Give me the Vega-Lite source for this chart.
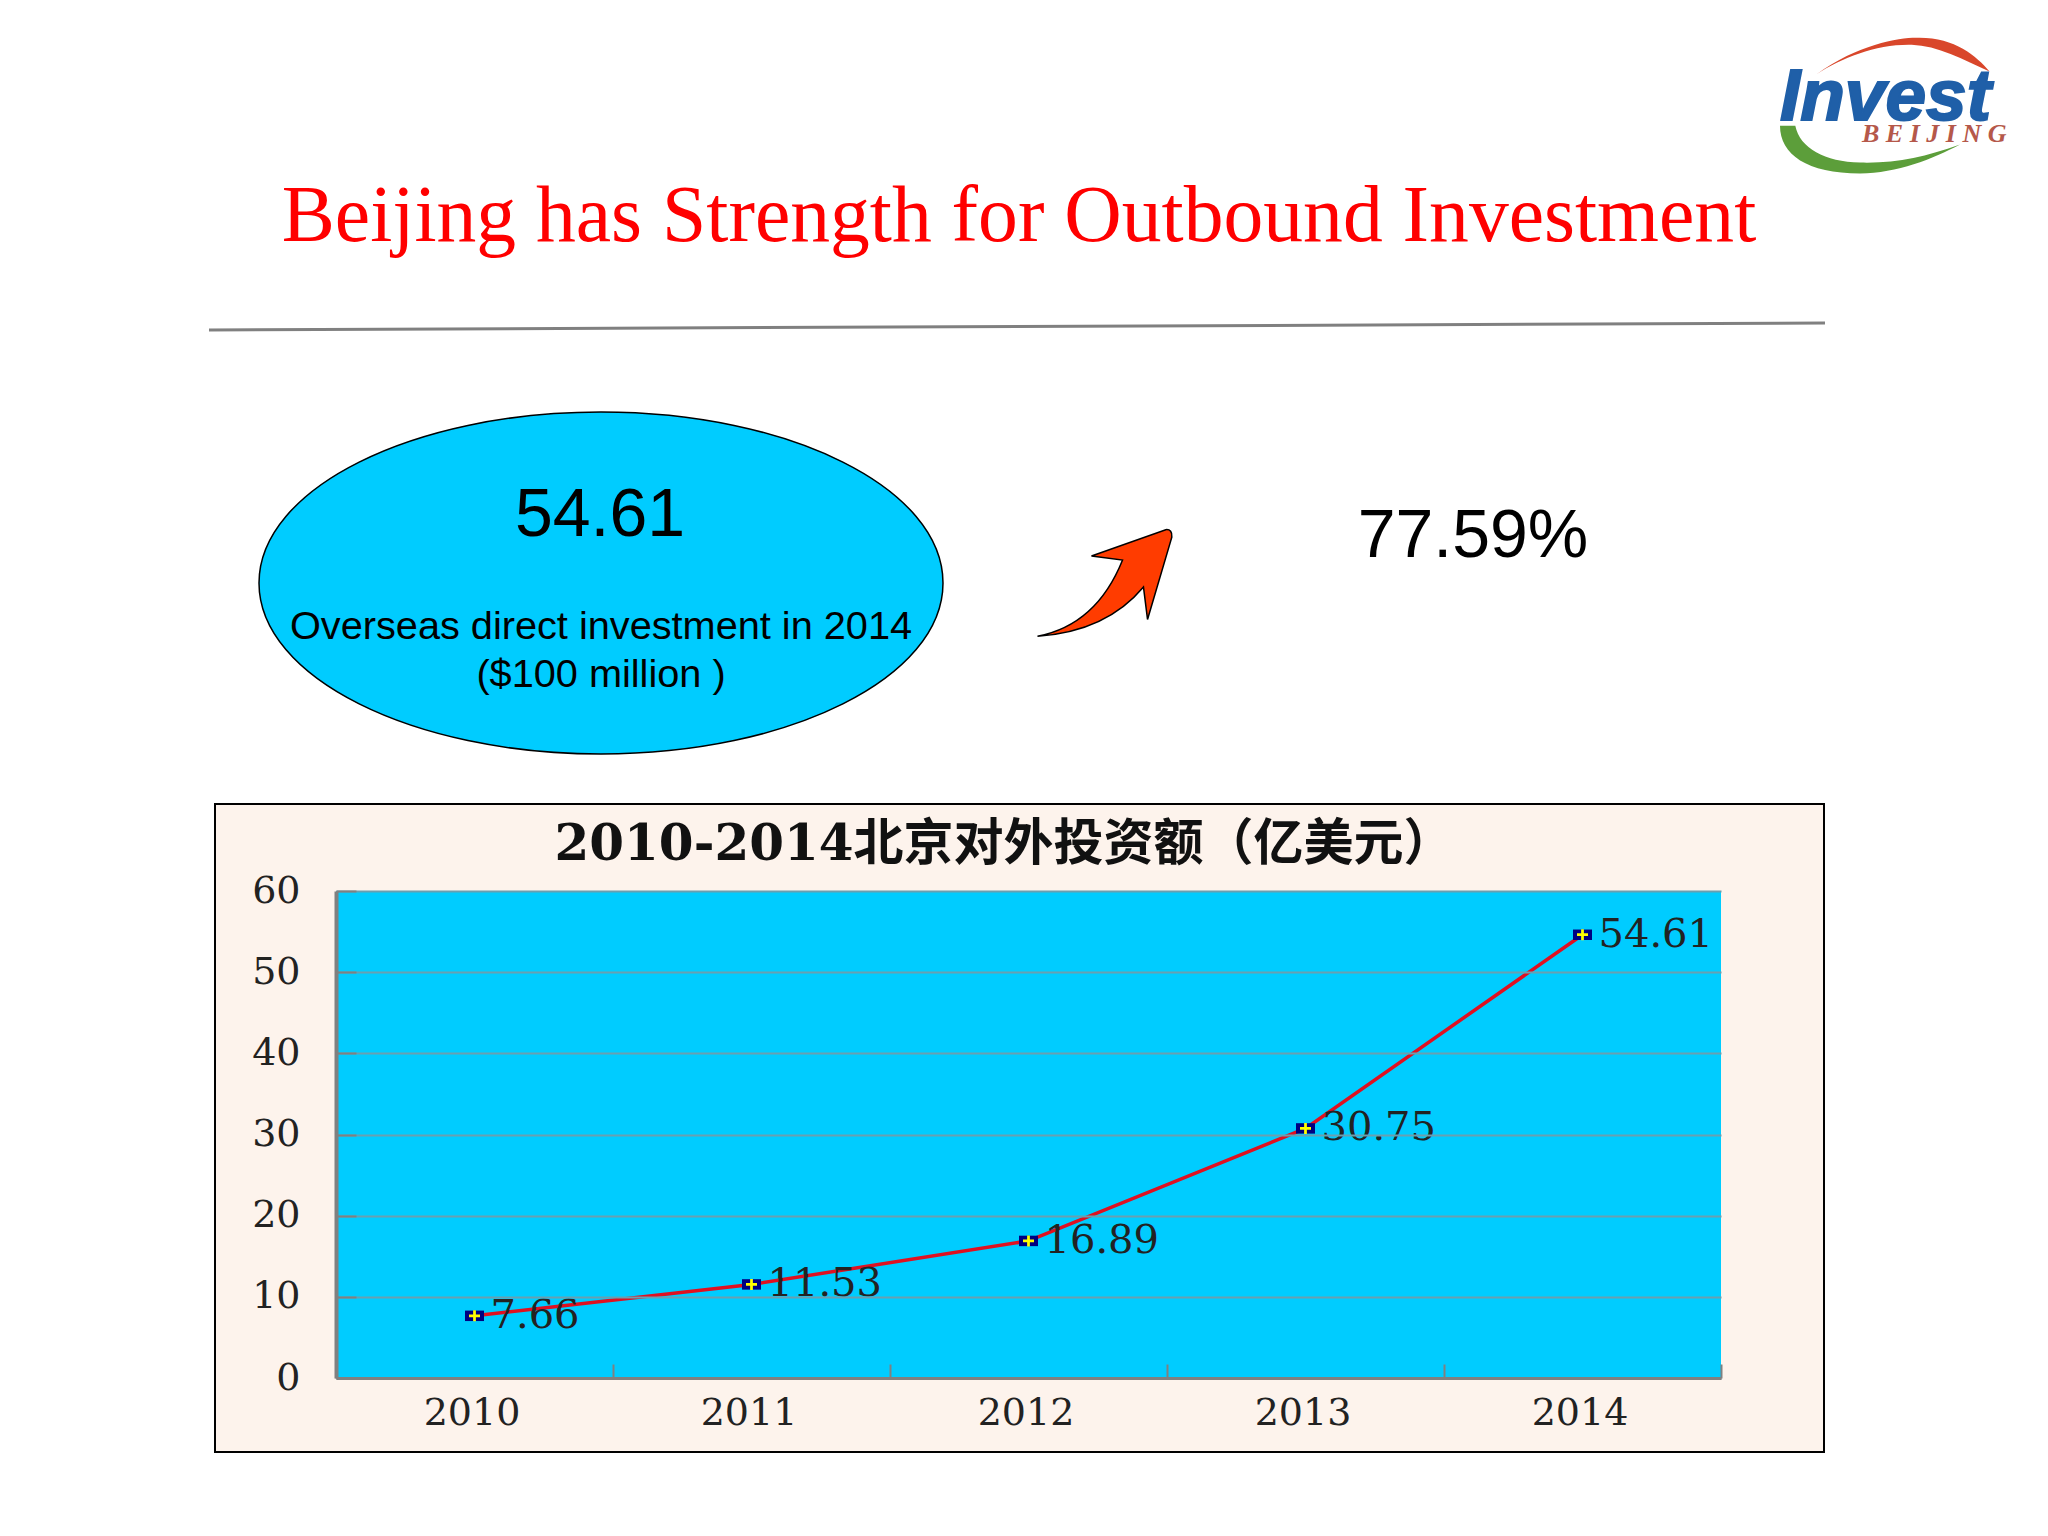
{
  "$schema": "https://vega.github.io/schema/vega-lite/v6.json",
  "width": 2048,
  "height": 1536,
  "padding": 0,
  "autosize": {"type": "none"},
  "background": "#ffffff",
  "config": {"view": {"stroke": null}},
  "data": {"values": [
    {"year": "2010", "amount": 7.66},
    {"year": "2011", "amount": 11.53},
    {"year": "2012", "amount": 16.89},
    {"year": "2013", "amount": 30.75},
    {"year": "2014", "amount": 54.61}
  ]},
  "resolve": {
    "scale": {"x": "independent", "y": "independent"},
    "axis": {"x": "independent", "y": "independent"}
  },
  "layer": [
    {
      "data": {"values": [{"kind": "slide"}]},
      "transform": [{"filter": "datum.kind == 'slide'"}],
      "layer": [
        {
          "mark": {"type": "rect", "fill": "#fdf3ec", "stroke": "#000000", "strokeWidth": 2},
          "encoding": {
            "x": {"datum": 215, "type": "quantitative", "scale": {"domain": [0, 2048], "range": [0, 2048]}, "axis": null},
            "x2": {"datum": 1824},
            "y": {"datum": 804, "type": "quantitative", "scale": {"domain": [0, 1536], "range": [0, 1536]}, "axis": null},
            "y2": {"datum": 1452}
          }
        },
        {
          "mark": {"type": "rect", "fill": "#00ccff"},
          "encoding": {
            "x": {"datum": 336, "type": "quantitative", "scale": {"domain": [0, 2048], "range": [0, 2048]}, "axis": null},
            "x2": {"datum": 1721},
            "y": {"datum": 891, "type": "quantitative", "scale": {"domain": [0, 1536], "range": [0, 1536]}, "axis": null},
            "y2": {"datum": 1378}
          }
        },
        {
          "mark": {"type": "rule", "stroke": "#808080", "strokeWidth": 3},
          "encoding": {
            "x": {"datum": 209, "type": "quantitative", "scale": {"domain": [0, 2048], "range": [0, 2048]}, "axis": null},
            "x2": {"datum": 1825},
            "y": {"datum": 330, "type": "quantitative", "scale": {"domain": [0, 1536], "range": [0, 1536]}, "axis": null},
            "y2": {"datum": 323}
          }
        },
        {
          "mark": {"type": "text", "text": "Beijing has Strength for Outbound Investment", "font": "Liberation Serif", "fontSize": 79.6, "fill": "#ff0000", "align": "center", "baseline": "middle"},
          "encoding": {
            "x": {"datum": 1019, "type": "quantitative", "scale": {"domain": [0, 2048], "range": [0, 2048]}, "axis": null},
            "y": {"datum": 217, "type": "quantitative", "scale": {"domain": [0, 1536], "range": [0, 1536]}, "axis": null}
          }
        },
        {
          "mark": {"type": "point", "shape": "M-1,0A1,0.5,0,1,1,1,0A1,0.5,0,1,1,-1,0Z", "size": 467856, "fill": "#00ccff", "filled": true, "opacity": 1, "stroke": "#000000", "strokeWidth": 1.5},
          "encoding": {
            "x": {"datum": 601, "type": "quantitative", "scale": {"domain": [0, 2048], "range": [0, 2048]}, "axis": null},
            "y": {"datum": 583, "type": "quantitative", "scale": {"domain": [0, 1536], "range": [0, 1536]}, "axis": null}
          }
        },
        {
          "mark": {"type": "text", "text": "54.61", "font": "Liberation Sans", "fontSize": 68, "fill": "#000000", "align": "center", "baseline": "middle"},
          "encoding": {
            "x": {"datum": 600, "type": "quantitative", "scale": {"domain": [0, 2048], "range": [0, 2048]}, "axis": null},
            "y": {"datum": 516, "type": "quantitative", "scale": {"domain": [0, 1536], "range": [0, 1536]}, "axis": null}
          }
        },
        {
          "mark": {"type": "text", "text": "Overseas direct investment in 2014", "font": "Liberation Sans", "fontSize": 39.7, "fill": "#000000", "align": "center", "baseline": "middle"},
          "encoding": {
            "x": {"datum": 601, "type": "quantitative", "scale": {"domain": [0, 2048], "range": [0, 2048]}, "axis": null},
            "y": {"datum": 627, "type": "quantitative", "scale": {"domain": [0, 1536], "range": [0, 1536]}, "axis": null}
          }
        },
        {
          "mark": {"type": "text", "text": "($100 million )", "font": "Liberation Sans", "fontSize": 39.7, "fill": "#000000", "align": "center", "baseline": "middle"},
          "encoding": {
            "x": {"datum": 601, "type": "quantitative", "scale": {"domain": [0, 2048], "range": [0, 2048]}, "axis": null},
            "y": {"datum": 675, "type": "quantitative", "scale": {"domain": [0, 1536], "range": [0, 1536]}, "axis": null}
          }
        },
        {
          "mark": {"type": "point", "shape": "M-1,.79Q-.125,.62,.26,-.34L-.2,-.40L.9,-.79Q1,-.8,.99,-.68L.63,.54L.57,.06Q.02,.72,-1,.79Z", "size": 18225, "fill": "#ff3c00", "filled": true, "opacity": 1, "stroke": "#000000", "strokeWidth": 1.5},
          "encoding": {
            "x": {"datum": 1105, "type": "quantitative", "scale": {"domain": [0, 2048], "range": [0, 2048]}, "axis": null},
            "y": {"datum": 583, "type": "quantitative", "scale": {"domain": [0, 1536], "range": [0, 1536]}, "axis": null}
          }
        },
        {
          "mark": {"type": "text", "text": "77.59%", "font": "Liberation Sans", "fontSize": 68, "fill": "#000000", "align": "center", "baseline": "middle"},
          "encoding": {
            "x": {"datum": 1473, "type": "quantitative", "scale": {"domain": [0, 2048], "range": [0, 2048]}, "axis": null},
            "y": {"datum": 537, "type": "quantitative", "scale": {"domain": [0, 1536], "range": [0, 1536]}, "axis": null}
          }
        },
        {
          "mark": {"type": "text", "text": "2010-2014北京对外投资额（亿美元）", "font": "DejaVu Serif, Noto Sans CJK SC", "fontWeight": "bold", "fontSize": 50, "fill": "#111111", "align": "center", "baseline": "middle"},
          "encoding": {
            "x": {"datum": 1004, "type": "quantitative", "scale": {"domain": [0, 2048], "range": [0, 2048]}, "axis": null},
            "y": {"datum": 845, "type": "quantitative", "scale": {"domain": [0, 1536], "range": [0, 1536]}, "axis": null}
          }
        },
        {
          "mark": {"type": "point", "shape": "M-1,.21C-.5,-.15,0,-.22,.19,-.21C.6,-.21,.85,0,1,.18C.7,.04,.4,-.12,.1,-.13C-.3,-.14,-.7,.02,-1,.21Z", "size": 29929, "fill": "#d9472b", "filled": true, "opacity": 1, "stroke": null},
          "encoding": {
            "x": {"datum": 1903, "type": "quantitative", "scale": {"domain": [0, 2048], "range": [0, 2048]}, "axis": null},
            "y": {"datum": 56, "type": "quantitative", "scale": {"domain": [0, 1536], "range": [0, 1536]}, "axis": null}
          }
        },
        {
          "mark": {"type": "point", "shape": "M-1,-.27C-1,.05,-.7,.26,-.11,.26C.3,.26,.7,.1,1,-.06C.6,.08,.3,.15,-.11,.14C-.5,.13,-.78,-.02,-.83,-.27Z", "size": 32400, "fill": "#5c9e3a", "filled": true, "opacity": 1, "stroke": null},
          "encoding": {
            "x": {"datum": 1870, "type": "quantitative", "scale": {"domain": [0, 2048], "range": [0, 2048]}, "axis": null},
            "y": {"datum": 150, "type": "quantitative", "scale": {"domain": [0, 1536], "range": [0, 1536]}, "axis": null}
          }
        },
        {
          "mark": {"type": "text", "text": "Invest", "font": "Liberation Sans", "fontWeight": "bold", "fontStyle": "italic", "fontSize": 73, "fill": "#1f5fa8", "stroke": "#1f5fa8", "strokeWidth": 2, "align": "left", "baseline": "alphabetic"},
          "encoding": {
            "x": {"datum": 1780, "type": "quantitative", "scale": {"domain": [0, 2048], "range": [0, 2048]}, "axis": null},
            "y": {"datum": 120, "type": "quantitative", "scale": {"domain": [0, 1536], "range": [0, 1536]}, "axis": null}
          }
        },
        {
          "mark": {"type": "text", "text": "B E I J I N G", "font": "Liberation Serif", "fontWeight": "bold", "fontStyle": "italic", "fontSize": 26, "fill": "#b5584a", "align": "left", "baseline": "alphabetic"},
          "encoding": {
            "x": {"datum": 1862, "type": "quantitative", "scale": {"domain": [0, 2048], "range": [0, 2048]}, "axis": null},
            "y": {"datum": 142, "type": "quantitative", "scale": {"domain": [0, 1536], "range": [0, 1536]}, "axis": null}
          }
        }
      ]
    },
    {
      "encoding": {
        "x": {
          "field": "year",
          "type": "ordinal",
          "scale": {"type": "band", "range": [336, 1721], "paddingInner": 0, "paddingOuter": 0},
          "axis": {
            "orient": "bottom",
            "offset": -158,
            "zindex": 1,
            "title": null,
            "labelAngle": 0,
            "labelFont": "DejaVu Serif",
            "labelFontSize": 38,
            "labelColor": "#222222",
            "labelPadding": 30,
            "labelOffset": -3,
            "tickBand": "extent",
            "tickSize": -14,
            "tickWidth": 2,
            "tickColor": "#808080",
            "domainColor": "#808080",
            "domainWidth": 3
          }
        },
        "y": {
          "field": "amount",
          "type": "quantitative",
          "scale": {"domain": [0, 60], "range": [1378, 891], "nice": false},
          "axis": {
            "orient": "left",
            "offset": -336,
            "title": null,
            "values": [0, 10, 20, 30, 40, 50, 60],
            "zindex": 1,
            "grid": true,
            "gridColor": "#6a9fb0",
            "gridWidth": 2,
            "labelFont": "DejaVu Serif",
            "labelFontSize": 38,
            "labelColor": "#222222",
            "labelPadding": 56,
            "tickSize": -20,
            "tickWidth": 2,
            "tickColor": "#808080",
            "domainColor": "#808080",
            "domainWidth": 4
          }
        }
      },
      "layer": [
        {"mark": {"type": "line", "stroke": "#e01020", "strokeWidth": 3.5}},
        {"mark": {"type": "point", "shape": "M-1,-.55H1V.55H-1Z", "size": 361, "fill": "#000080", "filled": true, "opacity": 1, "stroke": null}},
        {"mark": {"type": "point", "shape": "M-1,-.25H-.25V-1H.25V-.25H1V.25H.25V1H-.25V.25H-1Z", "size": 121, "fill": "#ffff00", "filled": true, "opacity": 1, "stroke": null}},
        {
          "mark": {"type": "text", "font": "DejaVu Serif", "fontSize": 40, "fill": "#222222", "align": "left", "baseline": "middle", "dx": 16},
          "encoding": {"text": {"field": "amount", "type": "quantitative", "format": ".2f"}}
        }
      ]
    }
  ]
}
